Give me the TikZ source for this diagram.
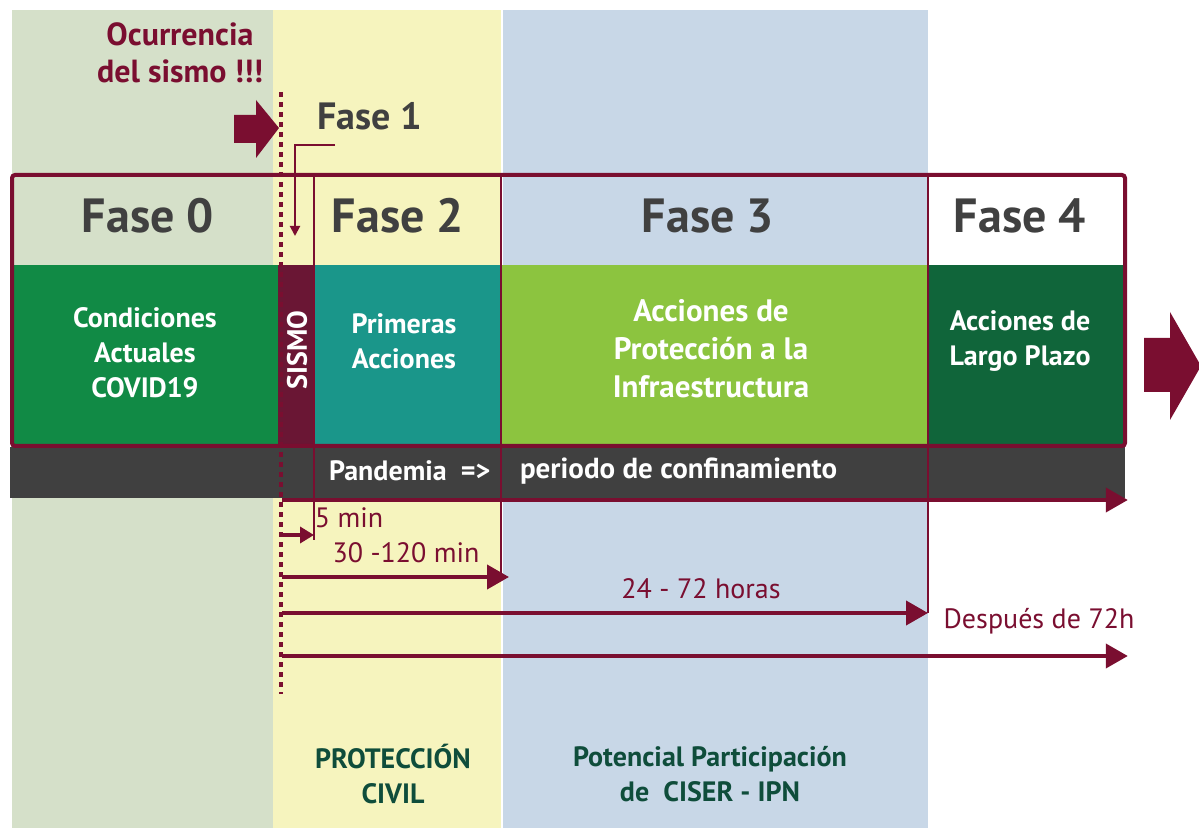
\documentclass[tikz,border=0pt]{standalone}
\usepackage{fontspec}
\setmainfont{PT Sans}
\usetikzlibrary{arrows.meta}
\usetikzlibrary{calc}

\definecolor{vino}{HTML}{7A0E30}
\definecolor{gristxt}{HTML}{404040}
\definecolor{fondo0}{HTML}{D5E0C9}
\definecolor{fondo1}{HTML}{F6F4BE}
\definecolor{fondo2}{HTML}{C8D7E7}
\definecolor{verde1}{HTML}{118A45}
\definecolor{sismoc}{HTML}{6A1634}
\definecolor{turq}{HTML}{1A968A}
\definecolor{lima}{HTML}{8CC43F}
\definecolor{verde2}{HTML}{10653A}
\definecolor{barrac}{HTML}{404040}
\definecolor{verdetxt}{HTML}{0F4D3B}

\tikzset{
  caja/.style={anchor=north west, inner sep=0pt, minimum height=90.5pt},
  fase/.style={font=\bfseries\fontsize{24}{28}\selectfont, text=gristxt},
  cajatxt/.style={font=\bfseries\fontsize{14}{17.5}\selectfont, text=white, align=center},
  etiq/.style={font=\fontsize{14}{17}\selectfont, text=vino},
  pie/.style={font=\bfseries\fontsize{14}{17.5}\selectfont, text=verdetxt, align=center},
  linea/.style={vino, line width=1pt},
  flecha/.style={vino, line width=2pt, -{Triangle[length=11pt,width=12pt]}},
}

\begin{document}
\begin{tikzpicture}[x=0.5pt,y=-0.5pt]
	\useasboundingbox (0,0) rectangle (1199,828);
	
	% columnas de fondo
	\fill[fondo0] (12,10) rectangle (273,828);
	\fill[fondo1] (273,10) rectangle (501,828);
	\fill[fondo2] (503,10) rectangle (928,828);
	\fill[white] (928,177) rectangle (1125,265);
	
	% cajas de fases
	\node[caja, fill=verde1, minimum width=133pt] (cond) at (12,265) {};
	\node[caja, fill=sismoc, minimum width=18pt] (sismo) at (278,265) {};
	\node[caja, fill=turq, minimum width=93.5pt] (prim) at (314,265) {};
	\node[caja, fill=lima, minimum width=213.5pt] (prot) at (501,265) {};
	\node[caja, fill=verde2, minimum width=98.5pt] (largo) at (928,265) {};
	\node[caja, fill=barrac, minimum width=557.5pt, minimum height=25.5pt] (barra) at (10,447) {};
	
	% tiempos
	\coordinate (arriba) at (0,177);
	\coordinate (t0) at (282,500);
	\coordinate (t5) at (282,535);
	\coordinate (t30) at (282,577);
	\coordinate (t24) at (282,613);
	\coordinate (t72) at (282,656);
	
	\draw[linea] (arriba -| prim.west) -- ($(t5 -| prim.west)+(0,5)$);
	\draw[linea] (arriba -| prot.west) -- (t30 -| prot.west);
	\draw[linea] (arriba -| largo.west) -- (t24 -| largo.west);
	
	\draw[vino, line width=2pt, rounded corners=1.5pt] (12,175) rectangle (1125,446);
	
	\draw[flecha] (t0) -- ($(t0 -| largo.east)+(2,0)$);
	\draw[vino, line width=2pt, -{Triangle[length=7pt,width=8pt]}] (t5) -- (t5 -| prim.west);
	\draw[flecha] (t30) -- ($(t30 -| prot.west)+(8,0)$);
	\draw[flecha] (t24) -- (t24 -| largo.west);
	\draw[flecha] (t72) -- ($(t72 -| largo.east)+(2,0)$);
	
	% linea del sismo
	\coordinate (sis1) at (281,92);
	\coordinate (sis2) at (281,694);
	\draw[vino, line width=2pt, dash pattern=on 2.5pt off 2.5pt] (sis1) -- (sis2);
	
	% flechas gruesas
	\fill[vino] (234,115) -- (256,115) -- (256,100) -- (279,128) -- (256,158) -- (256,143) -- (234,143) -- cycle;
	\fill[vino] (1144,338) -- (1170,338) -- (1170,312) -- (1201,366) -- (1170,420) -- (1170,392) -- (1144,392) -- cycle;
	
	% fase 1
	\node[font=\bfseries\fontsize{19}{23}\selectfont, text=gristxt] (f1) at (370,116) {Fase 1};
	\coordinate (f1a) at (335,145);
	\coordinate (f1b) at (295,145);
	\coordinate (f1c) at (295,236);
	\draw[vino, line width=1pt, -{Triangle[length=5pt,width=5pt]}] (f1a) -- (f1b) -- (f1c);
	
	\node[font=\bfseries\fontsize{16}{18.5}\selectfont, text=vino, align=center] (ocurre) at (180,53) {Ocurrencia\\del sismo !!!};
	
	% encabezados
	\node[fase] (f0) at (148,216) {Fase 0};
	\node[fase] (f2) at (398,216) {Fase 2};
	\node[fase] (f3) at (708,216) {Fase 3};
	\node[fase] (f4) at (1020,216) {Fase 4};
	
	% textos de cajas
	\node[cajatxt] (tcond) at (145,353) {Condiciones\\Actuales\\COVID19};
	\node[cajatxt, rotate=90] (tsismo) at (297,350) {SISMO};
	\node[cajatxt] (tprim) at (404,341) {Primeras\\Acciones};
	\node[cajatxt, font=\bfseries\fontsize{15.5}{19}\selectfont] (tprot) at (711,349) {Acciones de\\Protección a la\\Infraestructura};
	\node[cajatxt] (tlargo) at (1020,341) {Acciones de\\Largo Plazo};
	
	\node[cajatxt, anchor=west] (pand) at (322,471) {Pandemia \ =>};
	\node[cajatxt, anchor=west, font=\bfseries\fontsize{14.5}{17.5}\selectfont] (conf) at (513,471) {periodo de confinamiento};
	
	% etiquetas de tiempo
	\node[etiq] (l5) at (349,518) {5 min};
	\node[etiq] (l30) at (406,553) {30 -120 min};
	\node[etiq] (l24) at (701,589) {24 - 72 horas};
	\node[etiq] (l72) at (1039,621) {Después de 72h};
	
	% pie
	\node[pie] (pc) at (393,774) {PROTECCIÓN\\CIVIL};
	\node[pie] (ciser) at (710,774) {Potencial Participación\\de \ CISER - IPN};
\end{tikzpicture}
\end{document}
